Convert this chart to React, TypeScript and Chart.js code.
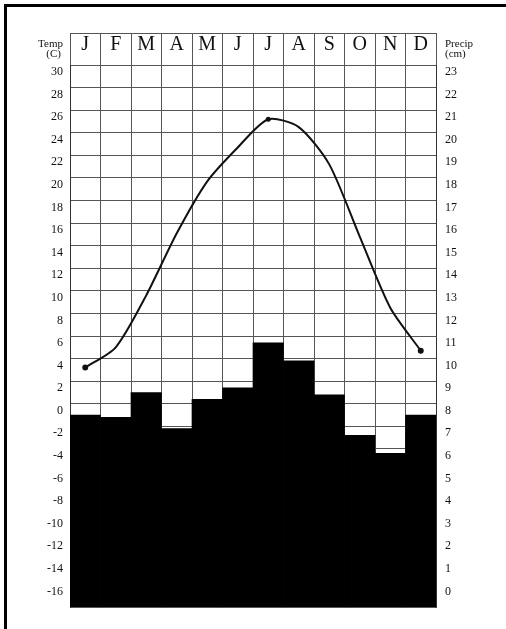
import React, { useEffect, useRef } from "react";
import { Chart, registerables } from "chart.js";

Chart.register(...registerables);

const MONTHS = ["J", "F", "M", "A", "M", "J", "J", "A", "S", "O", "N", "D"];
// Temperature (C), read at grid lines
const TEMP = [3.2, 5.0, 9.6, 15.1, 19.7, 22.7, 25.2, 24.5, 21.2, 14.8, 8.5, 4.7];
// Precipitation (cm)
const PRECIP = [7.5, 7.4, 8.5, 6.9, 8.2, 8.7, 10.7, 9.9, 8.4, 6.6, 5.8, 7.5];

const TEMP_MIN = -18;
const TEMP_MAX = 30;
const TEMP_STEP = 2;
const TEMP_LABEL_MIN = -16;
const PRECIP_MIN = -1;
const PRECIP_MAX = 23;
const PRECIP_STEP = 1;
const PRECIP_LABEL_MIN = 0;

const SERIF = "'Liberation Serif', 'Times New Roman', serif";
const GRID = "#555";

const headerTopLine = {
  id: "headerTopLine",
  afterDraw(chart: any) {
    const xs = chart.scales.x;
    const ctx = chart.ctx;
    ctx.save();
    ctx.strokeStyle = GRID;
    ctx.lineWidth = 1;
    ctx.beginPath();
    ctx.moveTo(chart.chartArea.left, xs.top + 0.5);
    ctx.lineTo(chart.chartArea.right, xs.top + 0.5);
    ctx.stroke();
    ctx.restore();
  },
};

export default function App() {
  const ref = useRef<HTMLCanvasElement | null>(null);

  useEffect(() => {
    if (!ref.current) return;
    const chart = new Chart(ref.current, {
      type: "bar",
      data: {
        labels: MONTHS,
        datasets: [
          {
            type: "line",
            label: "Temp",
            data: TEMP,
            yAxisID: "yT",
            borderColor: "#111",
            borderWidth: 2,
            tension: 0.25,
            pointRadius: [2, 0, 0, 0, 0, 0, 1.5, 0, 0, 0, 0, 2],
            pointBackgroundColor: "#111",
            pointBorderColor: "#111",
            order: 0,
          } as any,
          {
            type: "bar",
            label: "Precip",
            data: PRECIP,
            yAxisID: "yP",
            base: PRECIP_MIN,
            backgroundColor: "#000",
            borderColor: "#000",
            borderWidth: 0,
            barPercentage: 1,
            categoryPercentage: 1,
            order: 1,
          } as any,
        ],
      },
      options: {
        responsive: false,
        animation: false,
        devicePixelRatio: 1,
        layout: { padding: { left: 0, right: 0, top: 33, bottom: 22 } },
        plugins: { legend: { display: false }, tooltip: { enabled: false } },
        scales: {
          x: {
            position: "top",
            offset: true,
            afterFit: (s: any) => {
              s.height = 32;
            },
            grid: {
              offset: true,
              color: GRID,
              tickColor: GRID,
              tickLength: 32,
              drawTicks: true,
              lineWidth: 1,
            },
            border: { display: true, color: GRID },
            ticks: {
              padding: -24,
              color: "#111",
              font: { family: SERIF, size: 20 },
              maxRotation: 0,
              autoSkip: false,
            },
          },
          yT: {
            position: "left",
            min: TEMP_MIN,
            max: TEMP_MAX,
            afterFit: (s: any) => {
              s.width = 70;
            },
            grid: { color: GRID, lineWidth: 1, drawTicks: false },
            border: { display: true, color: "#333" },
            ticks: {
              stepSize: TEMP_STEP,
              autoSkip: false,
              padding: 7,
              labelOffset: 7,
              color: "#111",
              font: { family: SERIF, size: 12 },
              callback: (v: any) => (Number(v) < TEMP_LABEL_MIN ? "" : String(v)),
            },
          },
          yP: {
            position: "right",
            min: PRECIP_MIN,
            max: PRECIP_MAX,
            afterFit: (s: any) => {
              s.width = 70;
            },
            grid: { display: false, drawTicks: false },
            border: { display: true, color: "#333" },
            ticks: {
              stepSize: PRECIP_STEP,
              autoSkip: false,
              padding: 9,
              labelOffset: 7,
              color: "#111",
              font: { family: SERIF, size: 12 },
              callback: (v: any) => (Number(v) < PRECIP_LABEL_MIN ? "" : String(v)),
            },
          },
        },
      },
      plugins: [headerTopLine],
    });
    return () => chart.destroy();
  }, []);

  const axisTitle: React.CSSProperties = {
    position: "absolute",
    fontFamily: SERIF,
    fontSize: 11,
    lineHeight: "10px",
    color: "#111",
  };

  return (
    <div style={{ position: "absolute", left: 0, top: 0, width: 506, height: 629, overflow: "hidden", background: "#fff" }}>
      <div
        style={{
          position: "absolute",
          left: 4,
          top: 4,
          width: 499,
          height: 622,
          borderTop: "3px solid #000",
          borderLeft: "3px solid #000",
        }}
      />
      <canvas ref={ref} width={506} height={629} style={{ position: "absolute", left: 0, top: 0, width: 506, height: 629 }} />
      <div style={{ ...axisTitle, right: 506 - 63, top: 38, textAlign: "right" }}>
        Temp
        <br />
        <span style={{ marginRight: 2 }}>(C)</span>
      </div>
      <div style={{ ...axisTitle, left: 445, top: 38, textAlign: "left" }}>
        Precip
        <br />
        (cm)
      </div>
    </div>
  );
}
